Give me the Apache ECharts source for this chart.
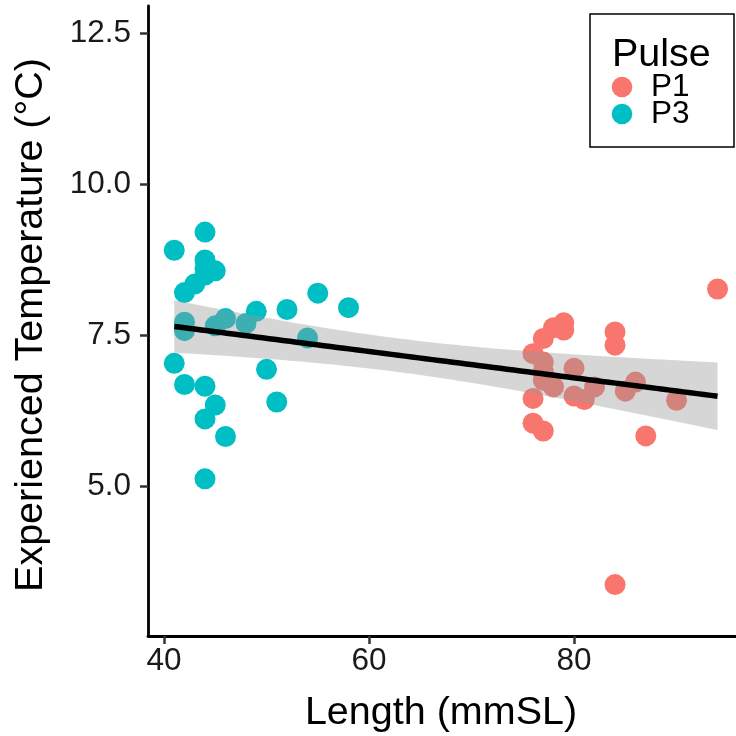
<!DOCTYPE html>
<html>
<head>
<meta charset="utf-8">
<script src="https://cdn.jsdelivr.net/npm/echarts@6/dist/echarts.min.js"></script>
<style>html,body{margin:0;padding:0;background:#fff}#c{width:736px;height:736px}</style>
</head>
<body>
<div id="c"></div>
<script>
// ---- data ----
const p3Length = [41,44,44,44,45,44,43,42,42,42,45,46,48,49,52,55,58,54,41,42,44,45,44,46,44,50,51];
const p3Temp   = [8.91,9.21,8.75,8.61,8.57,8.50,8.35,8.21,7.72,7.58,7.66,7.78,7.70,7.90,7.93,8.20,7.96,7.46,7.04,6.69,6.66,6.35,6.12,5.83,5.13,6.94,6.40];
const p1Length = [94,79,79,78,77,84,84,76,77,80,77,78,82,80,81,86,85,90,76,76,77,87,84,77];
const p1Temp   = [8.27,7.71,7.59,7.63,7.45,7.56,7.34,7.20,7.06,6.96,6.76,6.65,6.65,6.50,6.44,6.73,6.58,6.43,6.46,6.05,5.92,5.84,3.38,6.90];
const xTicks = [40,60,80];
const yTicks = [5.0,7.5,10.0,12.5];
const seriesNames = ['P1','P3'];
const seriesColors = ['#F8766D','#00BFC4'];

// ---- linear fit with 95% CI (like geom_smooth(method = "lm")) ----
const allX = p1Length.concat(p3Length), allY = p1Temp.concat(p3Temp);
const n = allX.length;
const xbar = allX.reduce((a,b)=>a+b,0)/n, ybar = allY.reduce((a,b)=>a+b,0)/n;
let sxx=0, sxy=0;
for (let i=0;i<n;i++){ sxx+=(allX[i]-xbar)**2; sxy+=(allX[i]-xbar)*(allY[i]-ybar); }
const slope = sxy/sxx, icpt = ybar - slope*xbar;
let sse=0; for (let i=0;i<n;i++){ sse += (allY[i]-(icpt+slope*allX[i]))**2; }
const s = Math.sqrt(sse/(n-2));
const tq = 2.01;
const xLo = Math.min(...allX), xHi = Math.max(...allX);
const fitX=[], fitY=[], fitLo=[], fitHi=[];
for (let k=0;k<=80;k++){
  const x = xLo + (xHi-xLo)*k/80;
  const y = icpt + slope*x;
  const se = s*Math.sqrt(1/n + (x-xbar)**2/sxx);
  fitX.push(x); fitY.push(y); fitLo.push(y-tq*se); fitHi.push(y+tq*se);
}

const FONT = '"Liberation Sans", Arial, sans-serif';
const TITLE = 39.5, TEXT = 31.5;
const legendGraphics = [
  {type:'rect', shape:{x:590, y:14, width:144, height:133}, style:{fill:'none', stroke:'#000', lineWidth:1.5}, z:10},
  {type:'text', x:612, y:55, style:{text:'Pulse', fontSize:TITLE, fontFamily:FONT, fill:'#000', textVerticalAlign:'middle'}, z:10}
];
seriesNames.forEach((nm,i)=>{
  const cy = 87 + i*27;
  legendGraphics.push({type:'circle', shape:{cx:622, cy:cy, r:10.3}, style:{fill:seriesColors[i]}, z:10});
  legendGraphics.push({type:'text', x:651, y:cy, style:{text:nm, fontSize:TEXT, fontFamily:FONT, fill:'#000', textVerticalAlign:'middle'}, z:10});
});

const chart = echarts.init(document.getElementById('c'), null, {renderer:'canvas'});
chart.setOption({
  backgroundColor:'#fff',
  animation:false,
  grid:{left:148, right:0, top:6, bottom:100, containLabel:false},
  xAxis:{
    type:'value', min:38.44, max:95.8,
    axisLine:{show:true, onZero:false, lineStyle:{color:'#000', width:2.8}},
    axisTick:{show:true, length:8, customValues:xTicks, lineStyle:{color:'#333', width:2.5}},
    axisLabel:{customValues:xTicks, color:'#1a1a1a', fontSize:TEXT, fontFamily:FONT, margin:9},
    splitLine:{show:false}
  },
  yAxis:{
    type:'value', min:2.53, max:12.95,
    axisLine:{show:true, onZero:false, lineStyle:{color:'#000', width:2.8}},
    axisTick:{show:true, length:8, customValues:yTicks, lineStyle:{color:'#333', width:2.5}},
    axisLabel:{customValues:yTicks, color:'#1a1a1a', fontSize:TEXT, fontFamily:FONT, margin:17,
      formatter:v=>Number(v).toFixed(1)},
    splitLine:{show:false}
  },
  graphic:legendGraphics.concat([
    {type:'text', x:441, y:713, style:{text:'Length (mmSL)', fontSize:TITLE, fontFamily:FONT, fill:'#000', textAlign:'center', textVerticalAlign:'middle'}},
    {type:'text', x:31, y:325, rotation:Math.PI/2, style:{text:'Experienced Temperature (°C)', fontSize:TITLE, fontFamily:FONT, fill:'#000', textAlign:'center', textVerticalAlign:'middle'}}
  ]),
  series:[
    {name:seriesNames[0], type:'scatter', symbol:'circle', symbolSize:21, z:2,
     itemStyle:{color:seriesColors[0], opacity:1}, data:p1Length.map((x,i)=>[x,p1Temp[i]])},
    {name:seriesNames[1], type:'scatter', symbol:'circle', symbolSize:21, z:2,
     itemStyle:{color:seriesColors[1], opacity:1}, data:p3Length.map((x,i)=>[x,p3Temp[i]])},
    {name:'ci', type:'custom', z:3, silent:true, data:[[fitX[0], fitY[0]]],
     renderItem:function(params, api){
       const pts=[];
       for (let k=0;k<fitX.length;k++) pts.push(api.coord([fitX[k], fitHi[k]]));
       for (let k=fitX.length-1;k>=0;k--) pts.push(api.coord([fitX[k], fitLo[k]]));
       return {type:'polygon', shape:{points:pts}, style:{fill:'rgba(153,153,153,0.4)'}};
     }},
    {name:'fit', type:'line', z:4, silent:true, showSymbol:false, symbol:'none',
     lineStyle:{color:'#000', width:5.5}, data:fitX.map((x,k)=>[x,fitY[k]])}
  ]
});
</script>
</body>
</html>
